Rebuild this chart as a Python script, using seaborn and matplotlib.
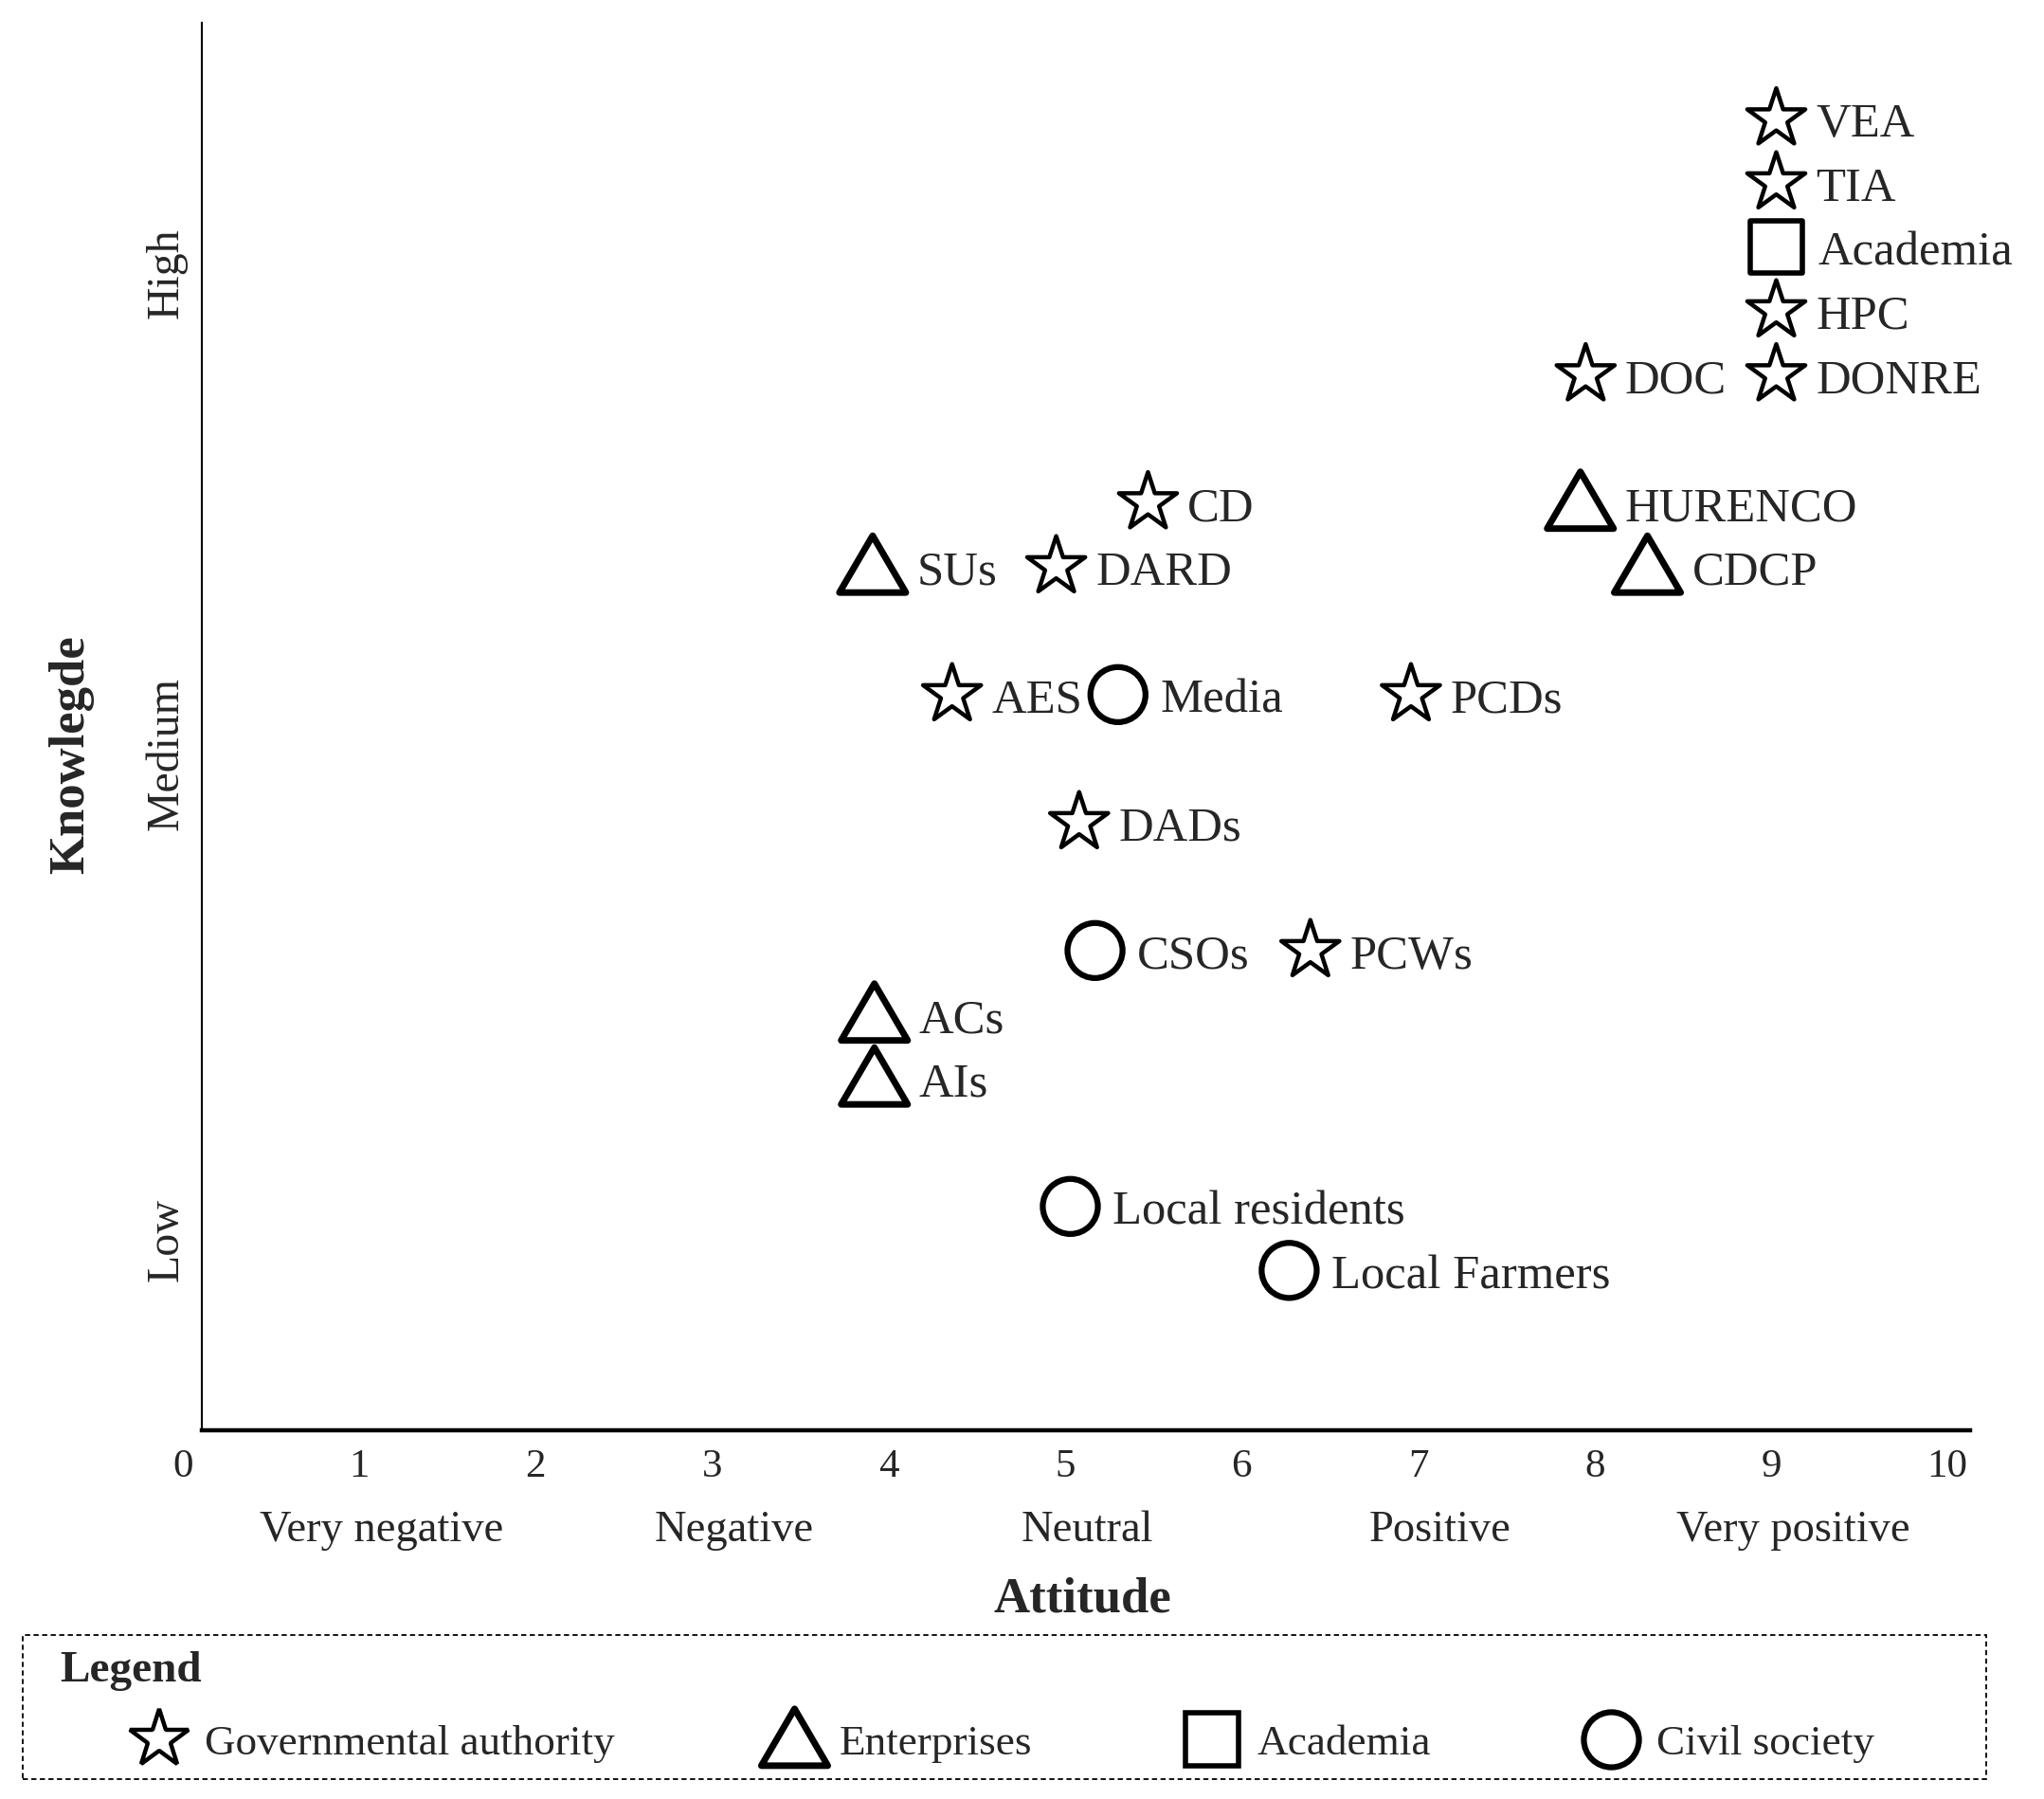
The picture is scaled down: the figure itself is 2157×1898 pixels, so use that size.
import seaborn as sns
import matplotlib.pyplot as plt
import matplotlib.transforms as mtransforms
from matplotlib.lines import Line2D
from matplotlib.patches import Rectangle
from matplotlib.path import Path
import pandas as pd

# stakeholders: attitude (x, 0-10) and knowledge (y, row units)
actors = ["VEA", "TIA", "Academia", "HPC", "DOC", "DONRE", "CD", "HURENCO",
          "SUs", "DARD", "CDCP", "AES", "Media", "PCDs", "DADs", "CSOs",
          "PCWs", "ACs", "AIs", "Local residents", "Local Farmers"]
attitude = [9.03, 9.03, 9.03, 9.03, 7.95, 9.03, 5.47, 7.92,
            3.91, 4.95, 8.30, 4.36, 5.30, 6.96, 5.08, 5.17,
            6.39, 3.92, 3.92, 5.03, 6.27]
knowledge = [20.5, 19.5, 18.5, 17.5, 16.5, 16.5, 14.5, 14.5,
             13.5, 13.5, 13.5, 11.5, 11.5, 11.5, 9.5, 7.5,
             7.5, 6.5, 5.5, 3.5, 2.5]
group_code = ["G", "G", "A", "G", "G", "G", "G", "E",
              "E", "G", "E", "G", "C", "G", "G", "C",
              "G", "E", "E", "C", "C"]

group_names = {"G": "Governmental authority", "E": "Enterprises",
               "A": "Academia", "C": "Civil society"}
group_order = ["G", "E", "A", "C"]

attitude_ticks = list(range(0, 11))
attitude_levels = ["Very negative", "Negative", "Neutral", "Positive", "Very positive"]
attitude_level_pos = [1.125, 3.125, 5.125, 7.125, 9.125]
knowledge_levels = ["Low", "Medium", "High"]
knowledge_level_pos = [3.0, 10.6, 18.1]

df = pd.DataFrame({"actor": actors, "attitude": attitude,
                   "knowledge": knowledge, "group": group_code})

# marker styles per group
triangle = Path([(-1, -0.78), (1, -0.78), (0, 0.93), (-1, -0.78)], closed=True)
markers = {"G": "*", "E": triangle, "A": "s", "C": "o"}
sizes = {"G": 2150, "E": 2550, "A": 1600, "C": 1750}
widths = {"G": 3.2, "E": 5.0, "A": 4.0, "C": 4.5}
offsets = {"G": 30, "E": 34, "A": 32, "C": 32}

sns.set_style("white")
plt.rcParams["font.family"] = ["Liberation Serif", "DejaVu Serif"]

fig = plt.figure(figsize=(21.57, 18.99), dpi=100)
ax = fig.add_axes([0.0989, 0.2048, 0.8651, 0.782])

sns.scatterplot(data=df, x="attitude", y="knowledge", style="group",
                markers=markers, size="group", sizes=sizes,
                color="black", legend=False, ax=ax, zorder=3)
pts = ax.collections[0]
pts.set_facecolor("none")
pts.set_edgecolor("black")
pts.set_linewidths([widths[g] for g in df["group"]])

for _, r in df.iterrows():
    ax.annotate(r["actor"], (r["attitude"], r["knowledge"]),
                xytext=(offsets[r["group"]], 0), textcoords="offset points",
                ha="left", va="center_baseline", fontsize=36.5)

ax.set_xlim(0.111, 10.13)
ax.set_ylim(0, 22)
ax.set_xticks([])
ax.set_yticks(knowledge_level_pos)
ax.set_yticklabels(knowledge_levels, rotation=90, va="center", fontsize=34.5)
ax.tick_params(axis="y", length=0, pad=11)
ax.set_xlabel("")
ax.set_ylabel("")
sns.despine(ax=ax)
ax.spines["left"].set_linewidth(1.5)
ax.spines["bottom"].set_linewidth(3.2)
ax.spines["left"].set_color("black")
ax.spines["bottom"].set_color("black")

tr = mtransforms.blended_transform_factory(ax.transData, fig.transFigure)
for t in attitude_ticks:
    ax.text(t, 0.1848, str(t), transform=tr, ha="center", va="center",
            fontsize=31, clip_on=False)
for lab, p in zip(attitude_levels, attitude_level_pos):
    ax.text(p, 0.1496, lab, transform=tr, ha="center", va="center",
            fontsize=33.5, clip_on=False)

fig.text(0.5295, 0.1116, "Attitude", ha="center", va="center",
         fontsize=38, fontweight="bold")
fig.text(0.035, 0.581, "Knowlegde", ha="center", va="center",
         rotation=90, fontsize=38, fontweight="bold")

# legend box
fig.add_artist(Rectangle((0.0109, 0.0111), 0.9607, 0.080, transform=fig.transFigure,
                         fill=False, edgecolor="black", lw=1.3, ls=(0, (3, 2))))
fig.text(0.0294, 0.0716, "Legend", ha="left", va="center",
         fontsize=34, fontweight="bold")
handles = [Line2D([], [], ls="none", marker=markers[g], ms=sizes[g] ** 0.5,
                  mfc="none", mec="black", mew=widths[g]) for g in group_order]
fig.legend(handles, [group_names[g] for g in group_order], loc="center",
           bbox_to_anchor=(0.0613, 0.011, 0.8555, 0.04), mode="expand",
           ncol=4, frameon=False, handlelength=1.6, handletextpad=0.25,
           fontsize=32.5, borderaxespad=0, borderpad=0)

fig.savefig("out.png", dpi=100)
